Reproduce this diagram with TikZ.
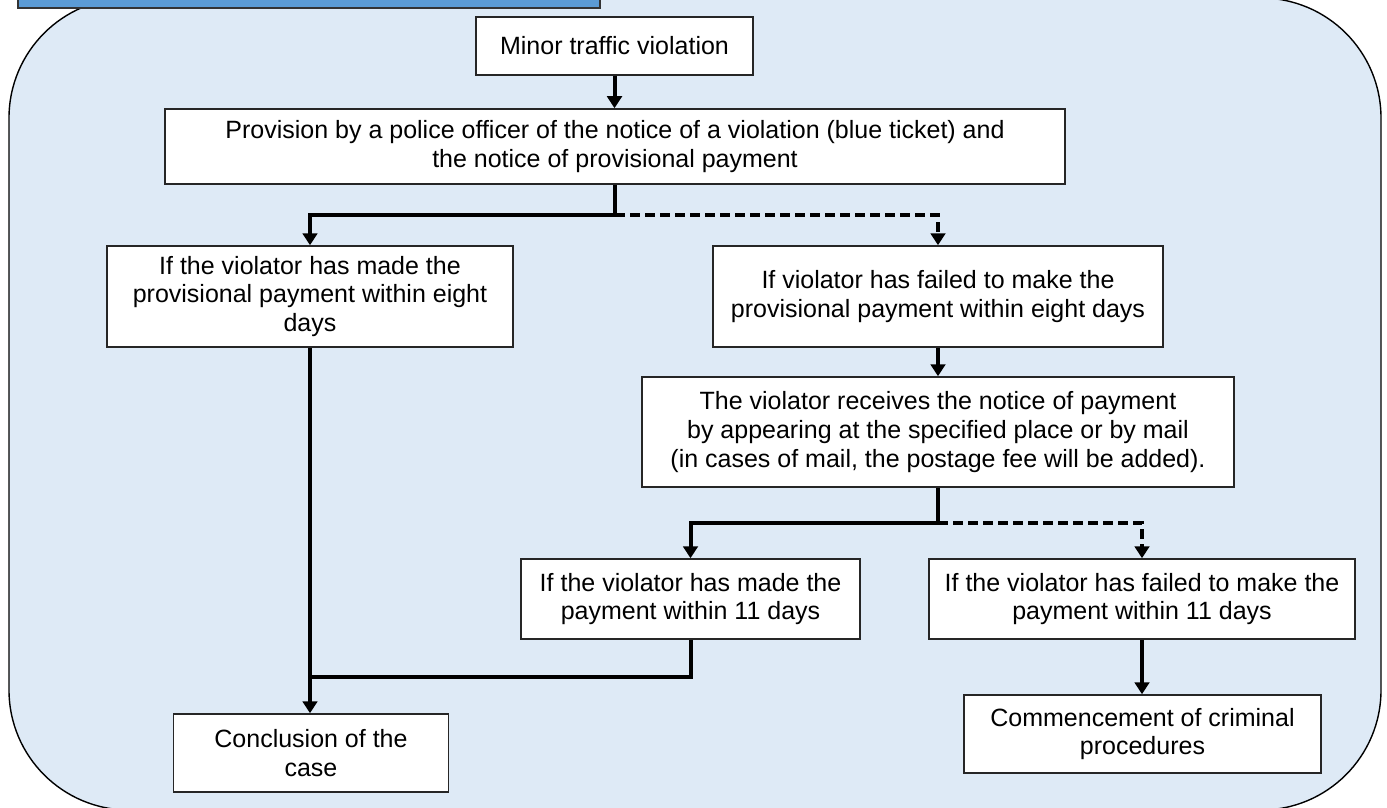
\documentclass[tikz,border=0pt]{standalone}
\usepackage{fontspec}
\setmainfont{Liberation Sans}
\usetikzlibrary{arrows.meta}
\definecolor{bgblue}{HTML}{DEEAF6}
\definecolor{hdrblue}{HTML}{5B9BD5}
\tikzset{
  stepbox/.style={draw=black!85, line width=0.75pt, fill=white, align=center, inner sep=0pt,
    font=\fontsize{12.5}{14.4}\selectfont},
  flow/.style={line width=2pt, -{Triangle[width=7.3pt,length=6pt]}},
  flowline/.style={line width=2pt},
  dashflow/.style={line width=2pt, dash pattern=on 5pt off 2.5pt, -{Triangle[width=7.3pt,length=6pt]}},
  dashline/.style={line width=2pt, dash pattern=on 5pt off 2.5pt}
}
\begin{document}
\begin{tikzpicture}[x=0.5pt,y=-0.5pt]
\useasboundingbox (0,0) rectangle (1387,808);
\clip (0,0) rectangle (1387,808);
\draw[fill=bgblue, line width=0.7pt, rounded corners=60pt] (9,-2) rectangle (1381,810);
\draw[fill=hdrblue, draw=black!80, line width=0.7pt] (18,-20) rectangle (600,8);

\node[stepbox, minimum width=138.5pt, minimum height=29pt] (a) at (614.5,46) {Minor traffic violation};
\node[stepbox, minimum width=450pt, minimum height=37.5pt] (b) at (615,146.5) {Provision by a police officer of the notice of a violation (blue ticket) and\\the notice of provisional payment};
\node[stepbox, minimum width=203pt, minimum height=50.5pt] (c) at (310,296.5) {If the violator has made the\\provisional payment within eight\\days};
\node[stepbox, minimum width=225pt, minimum height=50.5pt] (d) at (938,296.5) {If violator has failed to make the\\provisional payment within eight days};
\node[stepbox, minimum width=296pt, minimum height=55pt] (e) at (938,432) {The violator receives the notice of payment\\by appearing at the specified place or by mail\\(in cases of mail, the postage fee will be added).};
\node[stepbox, minimum width=169.5pt, minimum height=40pt] (f) at (690.5,599) {If the violator has made the\\payment within 11 days};
\node[stepbox, minimum width=213pt, minimum height=40pt] (g) at (1142,599) {If the violator has failed to make the\\payment within 11 days};
\node[stepbox, minimum width=137.5pt, minimum height=39pt] (h) at (311,753) {Conclusion of the\\case};
\node[stepbox, minimum width=178.5pt, minimum height=39pt] (i) at (1142.5,734) {Commencement of criminal\\procedures};

\coordinate (j1) at (615,215);
\coordinate (j2) at (938,523);
\coordinate (j3) at (310,677);

\draw[flow] (a.south) -- (a.south |- b.north);
\draw[flowline] (b.south) -- (j1);
\draw[flow] (j1) -| (c.north);
\draw[dashflow] (j1) -| (d.north);
\draw[flow] (d.south) -- (e.north);
\draw[flowline] (e.south) -- (j2);
\draw[flow] (j2) -| (f.north);
\draw[dashflow] (j2) -| (g.north);
\draw[flow] (c.south) -- (c.south |- h.north);
\draw[flowline] (f.south) |- (j3);
\draw[flow] (g.south) -- (g.south |- i.north);
\end{tikzpicture}
\end{document}
